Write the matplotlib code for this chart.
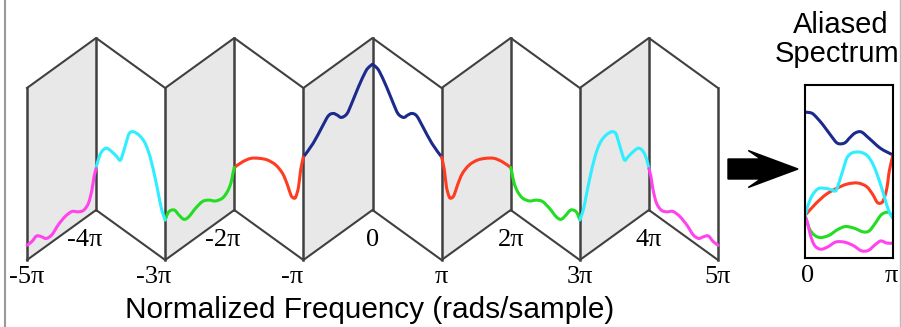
import numpy as np
import matplotlib.pyplot as plt
from matplotlib.patches import Polygon, FancyArrow, PathPatch
from matplotlib.path import Path
from matplotlib.lines import Line2D

# Magnitude spectrum on 0..5pi (frequency in units of pi), one list per pi-wide band.
# The spectrum is even, so the negative half is the mirror image.
f_blue = [0.00, 0.05, 0.10, 0.20, 0.30, 0.37, 0.45, 0.51, 0.57, 0.64, 0.73, 0.86, 1.00]
m_blue = [0.847, 0.846, 0.834, 0.777, 0.708, 0.667, 0.669, 0.700, 0.727, 0.733, 0.695, 0.637, 0.599]

f_red = [1.00, 1.04, 1.07, 1.11, 1.14, 1.18, 1.23, 1.30, 1.40, 1.52, 1.64, 1.76, 1.88, 2.00]
m_red = [0.599, 0.512, 0.405, 0.335, 0.319, 0.324, 0.369, 0.415, 0.436, 0.430, 0.405, 0.370, 0.315, 0.247]

f_green = [2.00, 2.02, 2.05, 2.10, 2.17, 2.27, 2.37, 2.46, 2.56, 2.66, 2.73, 2.80, 2.87, 2.95, 3.00]
m_green = [0.247, 0.219, 0.170, 0.136, 0.119, 0.131, 0.165, 0.183, 0.173, 0.152, 0.158, 0.203, 0.253, 0.265, 0.233]

f_cyan = [3.00, 3.05, 3.10, 3.15, 3.22, 3.29, 3.37, 3.46, 3.52, 3.56, 3.61, 3.65, 3.70, 3.77, 3.85, 3.92, 3.97, 4.00]
m_cyan = [0.233, 0.276, 0.359, 0.441, 0.537, 0.594, 0.615, 0.612, 0.585, 0.526, 0.444, 0.391, 0.397, 0.405, 0.403, 0.362, 0.300, 0.241]

f_mag = [4.00, 4.03, 4.06, 4.11, 4.18, 4.26, 4.35, 4.45, 4.55, 4.64, 4.72, 4.79, 4.86, 4.93, 5.00]
m_mag = [0.241, 0.202, 0.135, 0.072, 0.051, 0.065, 0.093, 0.092, 0.072, 0.042, 0.044, 0.074, 0.099, 0.087, 0.086]

bands = [(f_blue, m_blue, '#1c2a8c'),
         (f_red, m_red, '#ff3b22'),
         (f_green, m_green, '#22dd22'),
         (f_cyan, m_cyan, '#2eeeff'),
         (f_mag, m_mag, '#ff44ee')]

fold_ticks = list(range(-5, 6))
tick_text = ['-5\u03c0', '-4\u03c0', '-3\u03c0', '-2\u03c0', '-\u03c0', '0',
             '\u03c0', '2\u03c0', '3\u03c0', '4\u03c0', '5\u03c0']

RISE = 50 / 172.0      # height of the even folds above the odd ones
EDGE = '#404040'
SHADE = '#e8e8e8'


def lift(f):
    f = np.asarray(f, dtype=float)
    d = np.abs(f - 2 * np.round(f / 2))
    return RISE * (1 - d)


def py(p):
    # pixel row -> axis units
    return (260 - p) / 172.0


def px(p):
    # pixel column -> axis units
    return (p - 27) / 69.1 - 5


def smooth_curve(ax, x, y, color, lw=2.2, **kw):
    # Catmull-Rom spline through the points, drawn as cubic Bezier pieces
    p = np.column_stack([x, y])
    q = np.vstack([p[0], p, p[-1]])
    verts = [p[0]]
    codes = [Path.MOVETO]
    for i in range(len(p) - 1):
        p0, p1, p2, p3 = q[i], q[i + 1], q[i + 2], q[i + 3]
        verts += [p1 + (p2 - p0) / 6, p2 - (p3 - p1) / 6, p2]
        codes += [Path.CURVE4] * 3
    ax.add_patch(PathPatch(Path(verts, codes), facecolor='none', edgecolor=color,
                           lw=lw, capstyle='round', joinstyle='round', **kw))


fig = plt.figure(figsize=(9.01, 3.27), dpi=100)
ax = fig.add_axes([0, 0, 1, 1])
ax.set_xlim(px(0), px(901))
ax.set_ylim(py(327), py(0))
ax.axis('off')

# accordion panels
for k in range(-5, 5):
    b0, b1 = float(lift(k)), float(lift(k + 1))
    pts = [(k, b0), (k + 1, b1), (k + 1, b1 + 1), (k, b0 + 1)]
    ax.add_patch(Polygon(pts, closed=True, facecolor=SHADE if k % 2 else 'white',
                         edgecolor='none', zorder=1))
ks = np.array(fold_ticks, dtype=float)
ax.plot(ks, lift(ks), color=EDGE, lw=1.5, zorder=2)
ax.plot(ks, lift(ks) + 1, color=EDGE, lw=1.5, zorder=2)
for k in fold_ticks:
    b = float(lift(k))
    ax.plot([k, k], [b, b + 1], color=EDGE, lw=1.8, zorder=2)

# spectrum drawn on the folds
for f, m, c in bands:
    f = np.array(f)
    m = np.array(m)
    for sgn in (1, -1):
        smooth_curve(ax, sgn * f, lift(f) + m, c, zorder=3)

# frequency labels under the folds
for k, t in zip(fold_ticks, tick_text):
    y = py(283) if k % 2 else py(246)
    x = k
    if k < 0 and k != -5:
        x = k - 0.16
    ax.text(x, y, t, ha='center', va='baseline', fontsize=19,
            family='Liberation Serif', zorder=4)

ax.text(px(370), py(318), 'Normalized Frequency (rads/sample)',
        ha='center', va='baseline', fontsize=21.4, family='Liberation Sans')

# arrow towards the aliased spectrum
ax.add_patch(FancyArrow(px(728), py(169), px(798) - px(728), 0, width=20 / 172.0,
                        head_width=37 / 172.0, head_length=0.72, overhang=0.25,
                        length_includes_head=True, color='black', zorder=4))

ax.text(px(841), py(33), 'Aliased', ha='center', va='baseline',
        fontsize=21, family='Liberation Sans')
ax.text(px(837), py(62), 'Spectrum', ha='center', va='baseline',
        fontsize=21, family='Liberation Sans')

# aliased spectrum: every band folded back onto 0..pi
ax2 = fig.add_axes([805 / 901, (327 - 258) / 327, 88 / 901, 173 / 327])
ax2.set_xlim(0, 1)
ax2.set_ylim(0, 1.006)
ax2.set_xticks([])
ax2.set_yticks([])
for s in ax2.spines.values():
    s.set_linewidth(1.5)
    s.set_color('black')
for k, (f, m, c) in enumerate(bands):
    f = np.array(f)
    x = f - k if k % 2 == 0 else (k + 1) - f
    smooth_curve(ax2, x, np.array(m), c, clip_on=True)

ax.text(px(808), py(282), '0', ha='center', va='baseline',
        fontsize=19, family='Liberation Serif')
ax.text(px(891), py(282), '\u03c0', ha='center', va='baseline',
        fontsize=19, family='Liberation Serif')

# thin frame lines at the image sides
fig.add_artist(Line2D([4.5 / 901] * 2, [0, 1], color='#999999', lw=1.5))
fig.add_artist(Line2D([899.5 / 901] * 2, [0, 1], color='#bbbbbb', lw=1.0))

fig.savefig('out.png', dpi=100)
